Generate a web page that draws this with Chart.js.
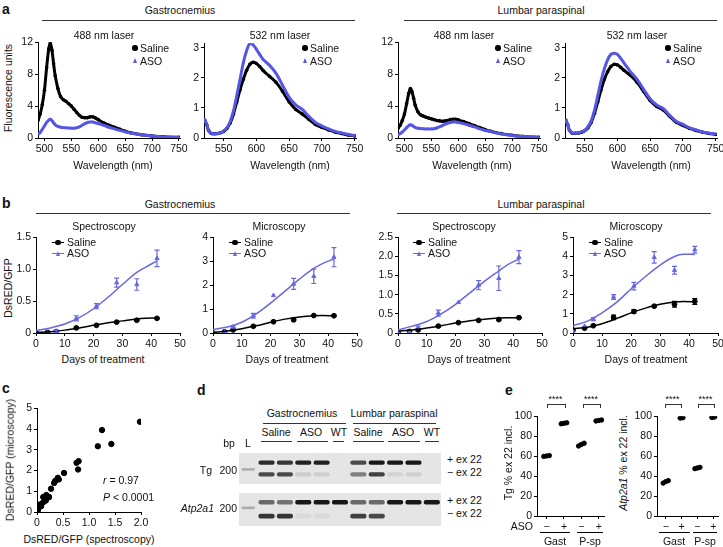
<!DOCTYPE html>
<html>
<head>
<meta charset="utf-8">
<script src="https://cdn.jsdelivr.net/npm/chart.js@4.4.1/dist/chart.umd.min.js"></script>
<style>
  body { margin: 0; background: #fff; width: 723px; height: 547px; position: relative; overflow: hidden;
         font-family: "Liberation Sans", Arial, Helvetica, sans-serif; color: #111; }
  canvas { position: absolute; }
  .t { position: absolute; white-space: nowrap; line-height: 1; }
  .hl { position: absolute; height: 0; }
</style>
</head>
<body>
<script>
// ---- panel a: emission spectra ----
const wl488 = [488, 492, 496, 500, 504, 508, 511, 514, 517, 520, 525, 530, 535, 540, 545, 550, 555, 560, 565, 570,
  575, 580, 585, 590, 595, 600, 610, 620, 630, 640, 650, 660, 680, 700, 720, 750];
const gast488Saline = [2.2, 3.0, 4.2, 6.0, 8.8, 11.2, 11.9, 11.0, 9.3, 7.8, 6.2, 5.2, 4.8, 4.6, 4.3, 4.0, 3.6, 3.2, 2.85, 2.6,
  2.55, 2.55, 2.65, 2.65, 2.5, 2.3, 1.9, 1.6, 1.35, 1.1, 0.85, 0.65, 0.4, 0.25, 0.15, 0.08];
const gast488Aso = [0.45, 0.7, 1.1, 1.5, 1.95, 2.25, 2.35, 2.2, 1.9, 1.65, 1.45, 1.35, 1.3, 1.28, 1.25, 1.22, 1.22, 1.28, 1.4, 1.6,
  1.8, 1.95, 2.0, 2.0, 1.9, 1.8, 1.6, 1.35, 1.15, 0.95, 0.78, 0.62, 0.4, 0.25, 0.14, 0.07];
const lumb488Saline = [1.2, 1.6, 2.2, 3.0, 4.3, 5.6, 6.2, 5.8, 5.0, 4.1, 3.3, 2.9, 2.75, 2.6, 2.5, 2.4, 2.3, 2.2, 2.15, 2.1,
  2.12, 2.2, 2.3, 2.35, 2.35, 2.28, 2.05, 1.8, 1.55, 1.3, 1.05, 0.85, 0.55, 0.35, 0.2, 0.1];
const lumb488Aso = [0.4, 0.55, 0.75, 1.0, 1.3, 1.55, 1.65, 1.6, 1.45, 1.32, 1.22, 1.18, 1.15, 1.14, 1.13, 1.14, 1.17, 1.25, 1.38, 1.55,
  1.72, 1.85, 1.95, 2.0, 2.0, 1.95, 1.8, 1.6, 1.4, 1.15, 0.95, 0.8, 0.5, 0.32, 0.18, 0.08];

const wl532 = [521, 524, 527, 531, 536, 541, 546, 550, 555, 560, 565, 570, 575, 580, 585, 590, 595, 600, 605, 610,
  620, 630, 640, 650, 660, 670, 680, 690, 700, 710, 720, 730, 740, 750];
const gast532Saline = [0.6, 0.45, 0.25, 0.15, 0.14, 0.15, 0.18, 0.22, 0.32, 0.5, 0.8, 1.2, 1.6, 1.95, 2.25, 2.45, 2.52, 2.48, 2.38, 2.25,
  2.05, 1.85, 1.55, 1.2, 0.95, 0.8, 0.62, 0.45, 0.35, 0.27, 0.2, 0.15, 0.1, 0.07];
const gast532Aso = [0.62, 0.45, 0.25, 0.15, 0.14, 0.15, 0.18, 0.23, 0.34, 0.55, 0.9, 1.4, 1.95, 2.5, 2.9, 3.15, 3.1, 2.95, 2.78, 2.62,
  2.42, 2.15, 1.75, 1.35, 1.1, 0.95, 0.72, 0.52, 0.4, 0.3, 0.22, 0.17, 0.12, 0.08];
const lumb532Saline = [0.6, 0.45, 0.25, 0.16, 0.16, 0.17, 0.2, 0.24, 0.34, 0.52, 0.82, 1.2, 1.6, 1.95, 2.2, 2.38, 2.45, 2.43, 2.35, 2.25,
  2.08, 1.85, 1.55, 1.25, 1.05, 0.93, 0.72, 0.52, 0.42, 0.32, 0.25, 0.19, 0.15, 0.12];
const lumb532Aso = [0.6, 0.45, 0.25, 0.16, 0.16, 0.18, 0.21, 0.25, 0.37, 0.57, 0.92, 1.4, 1.9, 2.3, 2.6, 2.78, 2.82, 2.78, 2.65, 2.5,
  2.2, 1.95, 1.62, 1.3, 1.1, 0.98, 0.75, 0.55, 0.45, 0.34, 0.27, 0.2, 0.16, 0.13];

// ---- panel b: DsRED/GFP over time ----
const days = [0, 4, 7, 14, 21, 28, 35, 42];
const fitDays = [0, 5, 10, 15, 20, 25, 30, 35, 38, 42];
const dayTicks = [0, 10, 20, 30, 40, 50];

const gastSpecSaline = [0, 0.01, 0.02, 0.08, 0.12, 0.17, 0.2, 0.23];
const gastSpecSalineErr = [0, 0, 0, 0.01, 0.01, 0.01, 0.01, 0.01];
const gastSpecAso = [0, 0, 0.03, 0.23, 0.42, 0.79, 0.76, 1.17];
const gastSpecAsoErr = [0, 0, 0.02, 0.04, 0.04, 0.07, 0.09, 0.13];
const gastSpecSalineFit = [0.01, 0.02, 0.045, 0.08, 0.12, 0.16, 0.19, 0.22, 0.23, 0.235];
const gastSpecAsoFit = [0.04, 0.08, 0.14, 0.24, 0.38, 0.56, 0.76, 0.95, 1.03, 1.13];

const gastMicSaline = [0, 0.05, 0.13, 0.28, 0.47, 0.55, 0.73, 0.72];
const gastMicSalineErr = [0, 0, 0.02, 0.03, 0.03, 0.04, 0.03, 0.03];
const gastMicAso = [0, 0.05, 0.25, 0.72, 1.57, 2.05, 2.37, 3.17];
const gastMicAsoErr = [0, 0, 0.05, 0.1, 0, 0.23, 0.3, 0.4];
const gastMicSalineFit = [0.02, 0.08, 0.18, 0.3, 0.45, 0.58, 0.67, 0.72, 0.73, 0.72];
const gastMicAsoFit = [0.15, 0.25, 0.45, 0.8, 1.25, 1.75, 2.25, 2.7, 2.9, 3.1];

const lumbSpecSaline = [0.02, 0.04, 0.08, 0.18, 0.27, 0.33, 0.35, 0.4];
const lumbSpecSalineErr = [0, 0, 0.02, 0.02, 0.02, 0.02, 0.02, 0.02];
const lumbSpecAso = [0.02, 0.03, 0.12, 0.52, 0.8, 1.25, 1.43, 1.98];
const lumbSpecAsoErr = [0, 0, 0.06, 0.08, 0, 0.12, 0.32, 0.17];
const lumbSpecSalineFit = [0.05, 0.08, 0.13, 0.19, 0.26, 0.32, 0.36, 0.39, 0.4, 0.4];
const lumbSpecAsoFit = [0.08, 0.18, 0.3, 0.5, 0.75, 1.05, 1.35, 1.62, 1.78, 1.93];

const lumbMicSaline = [0.15, 0.25, 0.38, 0.82, 1.12, 1.4, 1.5, 1.65];
const lumbMicSalineErr = [0, 0, 0.04, 0.12, 0.1, 0.04, 0.15, 0.15];
const lumbMicAso = [0.1, 0.35, 0.72, 1.88, 2.45, 3.95, 3.28, 4.35];
const lumbMicAsoErr = [0, 0, 0.08, 0.13, 0.2, 0.3, 0.2, 0.18];
const lumbMicSalineFit = [0.22, 0.3, 0.48, 0.75, 1.05, 1.3, 1.5, 1.62, 1.64, 1.62];
const lumbMicAsoFit = [0.38, 0.62, 1.05, 1.6, 2.3, 2.95, 3.55, 4.0, 4.12, 4.1];

// ---- panel c: correlation ----
const corrSpec = [0, 0, 0.01, 0.02, 0.02, 0.03, 0.04, 0.08, 0.08, 0.12, 0.12, 0.17, 0.18, 0.2, 0.23, 0.23, 0.27, 0.33, 0.35,
  0.4, 0.42, 0.52, 0.76, 0.79, 0.8, 1.17, 1.25, 1.43, 1.98];
const corrMicro = [0, 0.05, 0.05, 0.13, 0.15, 0.35, 0.25, 0.28, 0.38, 0.47, 0.72, 0.55, 0.82, 0.73, 0.72, 0.72, 1.12, 1.4, 1.5,
  1.65, 1.57, 1.88, 2.37, 2.05, 2.45, 3.17, 3.95, 3.28, 4.35];

// ---- panel d: gel band intensities (0..1), one per lane ----
const gelLanes = ['L', 'Saline', 'Saline', 'ASO', 'ASO', 'WT', 'Saline', 'Saline', 'ASO', 'ASO', 'WT'];
const tgPlus = [0, 0.9, 0.85, 0.95, 0.95, 0, 0.75, 1, 1, 1, 0];
const tgMinus = [0, 0.75, 0.75, 0.12, 0.1, 0, 0.5, 0.8, 0.08, 0.1, 0];
const atpPlus = [0, 0.6, 0.55, 1, 1, 1, 0.6, 0.6, 1, 1, 1];
const atpMinus = [0, 0.85, 0.85, 0.05, 0.05, 0, 0.8, 0.75, 0, 0, 0];

// ---- panel e: % exon 22 inclusion ----
const asoTicks = ['\u2212', '+', '\u2212', '+'];
const tgGastCtrl = [59.8, 60.2, 60.6];
const tgGastAso = [92.5, 93, 93.5];
const tgPspCtrl = [70.2, 71.8, 73];
const tgPspAso = [95.3, 95.8, 96.3];
const atpGastCtrl = [33, 34.5, 35.5];
const atpGastAso = [98.2, 98.6];
const atpPspCtrl = [47.5, 48.2, 48.8];
const atpPspAso = [98.8, 99.3];

const FONT = '"Liberation Sans", Arial, Helvetica, sans-serif';
const BLUE = '#5656e6';
const BLUE_B = '#6868e0';
const FS = 10.5;
Chart.defaults.font.family = FONT;
Chart.defaults.font.size = FS;
Chart.defaults.color = '#111';

// error bars drawn on the chart's own scales
Chart.register({
  id: 'errBars',
  afterDatasetsDraw(chart, args, opts) {
    if (!opts.sets) return;
    const ctx = chart.ctx, x = chart.scales.x, y = chart.scales.y;
    ctx.save();
    opts.sets.forEach(s => {
      const ds = chart.data.datasets[s.index];
      ctx.strokeStyle = ds.borderColor;
      ctx.lineWidth = 1.2;
      ds.data.forEach((p, i) => {
        const e = s.err[i];
        if (!e) return;
        const px = x.getPixelForValue(p.x);
        const top = y.getPixelForValue(p.y + e), bot = y.getPixelForValue(p.y - e);
        ctx.beginPath();
        ctx.moveTo(px, top); ctx.lineTo(px, bot);
        ctx.moveTo(px - 2.5, top); ctx.lineTo(px + 2.5, top);
        ctx.moveTo(px - 2.5, bot); ctx.lineTo(px + 2.5, bot);
        ctx.stroke();
      });
    });
    ctx.restore();
  }
});

// gel background
Chart.register({
  id: 'gelBg',
  beforeDraw(chart, args, opts) {
    if (!opts.color) return;
    chart.ctx.save();
    chart.ctx.fillStyle = opts.color;
    chart.ctx.fillRect(0, 0, chart.width, chart.height);
    chart.ctx.restore();
  }
});

function pts(xs, ys) { return xs.map((x, i) => ({ x: x, y: ys[i] })); }

function label(x, y, s, o = {}) {
  const d = document.createElement('div');
  d.className = 't';
  d.innerHTML = s;
  d.style.fontSize = (o.size || FS) + 'px';
  if (o.bold) d.style.fontWeight = 'bold';
  d.style.left = x + 'px';
  d.style.top = y + 'px';
  const al = o.align || 'center';
  const tx = al === 'center' ? '-50%' : al === 'right' ? '-100%' : '0';
  d.style.transform = o.rot ? 'translate(-50%,-50%) rotate(-90deg)' : 'translate(' + tx + ',-50%)';
  document.body.appendChild(d);
}

function hline(x1, x2, y, w, color) {
  const d = document.createElement('div');
  d.className = 'hl';
  d.style.left = x1 + 'px';
  d.style.top = y + 'px';
  d.style.width = (x2 - x1) + 'px';
  d.style.borderTop = (w || 1.5) + 'px solid ' + (color || '#333');
  document.body.appendChild(d);
}

function marker(x, y, kind, color) {
  const d = document.createElement('div');
  d.style.position = 'absolute';
  if (kind === 'tri') {
    d.style.left = (x - 2.5) + 'px'; d.style.top = (y - 3) + 'px';
    d.style.width = '0'; d.style.height = '0';
    d.style.borderLeft = '2.5px solid transparent';
    d.style.borderRight = '2.5px solid transparent';
    d.style.borderBottom = '5px solid ' + color;
  } else {
    d.style.left = (x - 2.7) + 'px'; d.style.top = (y - 2.7) + 'px';
    d.style.width = '5.4px'; d.style.height = '5.4px';
    d.style.borderRadius = '50%';
    d.style.background = color;
  }
  document.body.appendChild(d);
}

function bracket(x1, x2, y) {
  const d = document.createElement('div');
  d.style.position = 'absolute';
  d.style.left = x1 + 'px'; d.style.top = y + 'px';
  d.style.width = (x2 - x1) + 'px'; d.style.height = '3px';
  d.style.border = '1px solid #333'; d.style.borderBottom = 'none';
  document.body.appendChild(d);
  label((x1 + x2) / 2, y - 5, '****', { size: 9 });
}

function axis(min, max, ticks, size, fmt) {
  return {
    type: 'linear', min: min, max: max,
    afterBuildTicks: s => { s.ticks = ticks.map(v => ({ value: v })); },
    ticks: { autoSkip: false, maxRotation: 0, padding: 2, color: '#111', font: { size: FS },
             callback: fmt || (v => String(v)) },
    grid: { drawOnChartArea: false, color: '#000', tickLength: 3, lineWidth: 1 },
    border: { color: '#000', width: 1 },
    afterFit: s => { if (s.isHorizontal()) s.height = size; else s.width = size; }
  };
}

function makeChart(plot, yw, xh, data, scales, plugins) {
  const pt = 8, pr = 12;
  const c = document.createElement('canvas');
  const w = plot.r - plot.l + yw + pr, h = plot.b - plot.t + pt + xh;
  c.width = w; c.height = h;
  c.style.left = (plot.l - yw) + 'px'; c.style.top = (plot.t - pt) + 'px';
  c.style.width = w + 'px'; c.style.height = h + 'px';
  document.body.appendChild(c);
  return new Chart(c, {
    type: 'scatter', data: data,
    options: {
      responsive: false, animation: false, devicePixelRatio: 1,
      layout: { padding: { top: pt, right: pr, left: 0, bottom: 0 } },
      scales: scales,
      plugins: Object.assign({ legend: { display: false }, tooltip: { enabled: false } }, plugins || {})
    }
  });
}

const dec = v => (v === 0 ? '0' : v.toFixed(1));

function spectrum(plot, xmin, xticks, ymax, yticks, wl, saline, aso) {
  makeChart(plot, 22, 18, { datasets: [
    { data: pts(wl, aso), showLine: true, borderColor: BLUE, backgroundColor: BLUE, borderWidth: 3,
      pointStyle: 'triangle', pointRadius: 1.8, pointBorderWidth: 0, tension: 0.3 },
    { data: pts(wl, saline), showLine: true, borderColor: '#000', backgroundColor: '#000', borderWidth: 3,
      pointRadius: 1.8, pointBorderWidth: 0, tension: 0.3 }
  ] }, { x: axis(xmin, 752, xticks, 18), y: axis(0, ymax, yticks, 22) });
}

function course(plot, ymax, yticks, fmt, sal, salErr, aso, asoErr, salFit, asoFit) {
  makeChart(plot, 24, 18, { datasets: [
    { data: pts(fitDays, asoFit), showLine: true, borderColor: BLUE_B, borderWidth: 1.5, pointRadius: 0,
      cubicInterpolationMode: 'monotone' },
    { data: pts(fitDays, salFit), showLine: true, borderColor: '#000', borderWidth: 1.5, pointRadius: 0,
      cubicInterpolationMode: 'monotone' },
    { data: pts(days, aso), borderColor: BLUE_B, backgroundColor: BLUE_B, pointStyle: 'triangle', pointRadius: 2.4 },
    { data: pts(days, sal), borderColor: '#000', backgroundColor: '#000', pointRadius: 2.4 }
  ] }, { x: axis(0, 50, dayTicks, 18), y: axis(0, ymax, yticks, 24, fmt) },
  { errBars: { sets: [{ index: 2, err: asoErr }, { index: 3, err: salErr }] } });
}

function shade(v) {
  if (!v) return 'rgba(0,0,0,0)';
  const g = Math.round(228 - 205 * v);
  return 'rgb(' + g + ',' + g + ',' + g + ')';
}

function gelChart(box, plus, minus, pos) {
  const c = document.createElement('canvas');
  const w = box.r - box.l, h = box.b - box.t;
  c.width = w; c.height = h;
  c.style.left = box.l + 'px'; c.style.top = box.t + 'px';
  c.style.width = w + 'px'; c.style.height = h + 'px';
  c.style.filter = 'blur(0.5px)';
  document.body.appendChild(c);
  new Chart(c, {
    type: 'bar',
    data: { labels: gelLanes, datasets: [
      { data: plus.map(v => (v ? pos.plus : null)), backgroundColor: plus.map(shade), barPercentage: 0.88,
        categoryPercentage: 1, borderRadius: 2, borderSkipped: false },
      { data: minus.map(v => (v ? pos.minus : null)), backgroundColor: minus.map(shade), barPercentage: 0.88,
        categoryPercentage: 1, borderRadius: 2, borderSkipped: false },
      { data: gelLanes.map(l => (l === 'L' ? pos.ladder : null)), backgroundColor: shade(0.28), barPercentage: 0.7,
        categoryPercentage: 1, borderSkipped: false }
    ] },
    options: {
      responsive: false, animation: false, devicePixelRatio: 1,
      datasets: { bar: { grouped: false } },
      layout: { padding: 0 },
      scales: { x: { display: false }, y: { display: false, min: 0, max: 10, reverse: true } },
      plugins: { legend: { display: false }, tooltip: { enabled: false }, gelBg: { color: '#e5e5e5' } }
    }
  });
}

function inclusion(plot, groups) {
  const datasets = [];
  groups.forEach((vals, g) => {
    const xs = vals.map((v, j) => g + 1 + (j - (vals.length - 1) / 2) * 0.16);
    const mean = vals.reduce((a, b) => a + b, 0) / vals.length;
    datasets.push({ data: [{ x: g + 0.75, y: mean }, { x: g + 1.25, y: mean }], showLine: true,
      borderColor: '#000', borderWidth: 1.3, pointRadius: 0 });
    datasets.push({ data: pts(xs, vals), backgroundColor: '#000', borderColor: '#000', pointRadius: 2.2 });
  });
  makeChart(plot, 24, 16, { datasets: datasets }, {
    x: axis(0.45, 4.3, [1, 2, 3, 4], 16, (v, i) => asoTicks[i]),
    y: axis(0, 100, [0, 20, 40, 60, 80, 100], 24)
  });
}

// ---------- panel a ----------
label(2, 9, 'a', { bold: true, size: 14, align: 'left' });
label(180, 10, 'Gastrocnemius');
hline(42, 355, 20);
label(541, 10, 'Lumbar paraspinal');
hline(404, 717, 20);
label(8, 88, 'Fluorescence units', { rot: true });

spectrum({ l: 38, r: 180, t: 42, b: 138 }, 488, [500, 550, 600, 650, 700, 750], 12, [0, 4, 8, 12], wl488, gast488Saline, gast488Aso);
spectrum({ l: 204, r: 356, t: 43, b: 138 }, 520, [550, 600, 650, 700, 750], 3.15, [0, 1, 2, 3], wl532, gast532Saline, gast532Aso);
spectrum({ l: 398, r: 540, t: 42, b: 138 }, 488, [500, 550, 600, 650, 700, 750], 12, [0, 4, 8, 12], wl488, lumb488Saline, lumb488Aso);
spectrum({ l: 565, r: 717, t: 43, b: 138 }, 520, [550, 600, 650, 700, 750], 3.15, [0, 1, 2, 3], wl532, lumb532Saline, lumb532Aso);

[[104, 113, 135], [280, 290, 305], [464, 472, 498], [637, 651, 668]].forEach(([tc, xc, lx]) => {
  label(tc, 35, tc === 104 || tc === 464 ? '488 nm laser' : '532 nm laser');
  label(xc, 165, 'Wavelength (nm)');
  marker(lx, 48, 'dot', '#000');
  label(lx + 5, 48, 'Saline', { align: 'left' });
  marker(lx, 61, 'tri', BLUE);
  label(lx + 5, 61, 'ASO', { align: 'left' });
});

// ---------- panel b ----------
label(2, 203, 'b', { bold: true, size: 14, align: 'left' });
label(180, 204, 'Gastrocnemius');
hline(36, 350, 213);
label(541, 204, 'Lumbar paraspinal');
hline(397, 711, 213);
label(8, 288, 'DsRED/GFP', { rot: true });

course({ l: 36, r: 180, t: 237, b: 333 }, 1.5, [0, 0.5, 1, 1.5], dec,
  gastSpecSaline, gastSpecSalineErr, gastSpecAso, gastSpecAsoErr, gastSpecSalineFit, gastSpecAsoFit);
course({ l: 213, r: 357, t: 237, b: 333 }, 4, [0, 1, 2, 3, 4], null,
  gastMicSaline, gastMicSalineErr, gastMicAso, gastMicAsoErr, gastMicSalineFit, gastMicAsoFit);
course({ l: 398, r: 542, t: 237, b: 333 }, 2.5, [0, 0.5, 1, 1.5, 2, 2.5], dec,
  lumbSpecSaline, lumbSpecSalineErr, lumbSpecAso, lumbSpecAsoErr, lumbSpecSalineFit, lumbSpecAsoFit);
course({ l: 573, r: 718, t: 237, b: 333 }, 5, [0, 1, 2, 3, 4, 5], null,
  lumbMicSaline, lumbMicSalineErr, lumbMicAso, lumbMicAsoErr, lumbMicSalineFit, lumbMicAsoFit);

[[104, 103, 52, 'Spectroscopy'], [279, 287, 229, 'Microscopy'], [464, 469, 413, 'Spectroscopy'], [636, 646, 589, 'Microscopy']]
  .forEach(([tc, xc, lx, name]) => {
    label(tc, 226, name);
    label(xc, 359, 'Days of treatment');
    hline(lx, lx + 12, 242, 1.5, '#000');
    marker(lx + 6, 242.5, 'dot', '#000');
    label(lx + 15, 242, 'Saline', { align: 'left' });
    hline(lx, lx + 12, 253, 1.5, BLUE_B);
    marker(lx + 6, 253.5, 'tri', BLUE_B);
    label(lx + 15, 253, 'ASO', { align: 'left' });
  });

// ---------- panel c ----------
label(2, 388, 'c', { bold: true, size: 14, align: 'left' });
makeChart({ l: 37, r: 141, t: 408, b: 512 }, 22, 18, { datasets: [
  { data: pts(corrSpec, corrMicro), backgroundColor: '#000', borderColor: '#000', pointRadius: 2.7 }
] }, { x: axis(0, 2, [0, 0.5, 1, 1.5, 2], 18, dec), y: axis(0, 5, [0, 1, 2, 3, 4, 5], 22) });
label(10, 460, 'DsRED/GFP (microscopy)', { rot: true });
label(89, 539, 'DsRED/GFP (spectroscopy)');
label(103, 480, '<i>r</i> = 0.97', { align: 'left' });
label(103, 497, '<i>P</i> &lt; 0.0001', { align: 'left' });

// ---------- panel d ----------
label(197, 390, 'd', { bold: true, size: 14, align: 'left' });
label(302, 413, 'Gastrocnemius');
hline(263, 346, 423);
label(394, 413, 'Lumbar paraspinal');
hline(353, 436, 423);
[[276, 261, 292, 'Saline'], [311, 297, 328, 'ASO'], [339, 333, 344, 'WT'],
 [368, 353, 384, 'Saline'], [403, 388, 420, 'ASO'], [432, 425, 439, 'WT']].forEach(([c, a, b, s]) => {
  label(c, 432, s);
  hline(a, b, 441);
});
label(229, 443, 'bp');
label(248, 443, 'L');
gelChart({ l: 239, r: 441, t: 453, b: 484 }, tgPlus, tgMinus, { plus: [2.4, 3.8], minus: [6.2, 7.6], ladder: [4.9, 5.7] });
gelChart({ l: 239, r: 441, t: 493, b: 526 }, atpPlus, atpMinus, { plus: [2.1, 3.5], minus: [6.3, 7.7], ladder: [4.1, 4.9] });
label(212, 470, 'Tg', { align: 'right' });
label(237, 470, '200', { align: 'right' });
label(214, 508, '<i>Atp2a1</i>', { align: 'right' });
label(237, 508, '200', { align: 'right' });
label(447, 459, '+ ex 22', { align: 'left' });
label(447, 472, '\u2212 ex 22', { align: 'left' });
label(447, 500, '+ ex 22', { align: 'left' });
label(447, 513, '\u2212 ex 22', { align: 'left' });

// ---------- panel e ----------
label(505, 390, 'e', { bold: true, size: 14, align: 'left' });
inclusion({ l: 537, r: 604, t: 416, b: 516 }, [tgGastCtrl, tgGastAso, tgPspCtrl, tgPspAso]);
inclusion({ l: 657, r: 718, t: 416, b: 516 }, [atpGastCtrl, atpGastAso, atpPspCtrl, atpPspAso]);
label(508, 463, 'Tg % ex 22 incl.', { rot: true });
label(623, 463, '<i>Atp2a1</i> % ex 22 incl.', { rot: true });
label(533, 526, 'ASO', { align: 'right' });
hline(540, 570, 532, 1.2, '#000');
hline(577, 603, 532, 1.2, '#000');
label(555, 541, 'Gast');
label(590, 541, 'P-sp');
hline(659, 690, 532, 1.2, '#000');
hline(693, 717, 532, 1.2, '#000');
label(674, 541, 'Gast');
label(705, 541, 'P-sp');
bracket(547, 564, 404);
bracket(583, 599, 404);
bracket(665, 680, 404);
bracket(698, 713, 404);
</script>
</body>
</html>
